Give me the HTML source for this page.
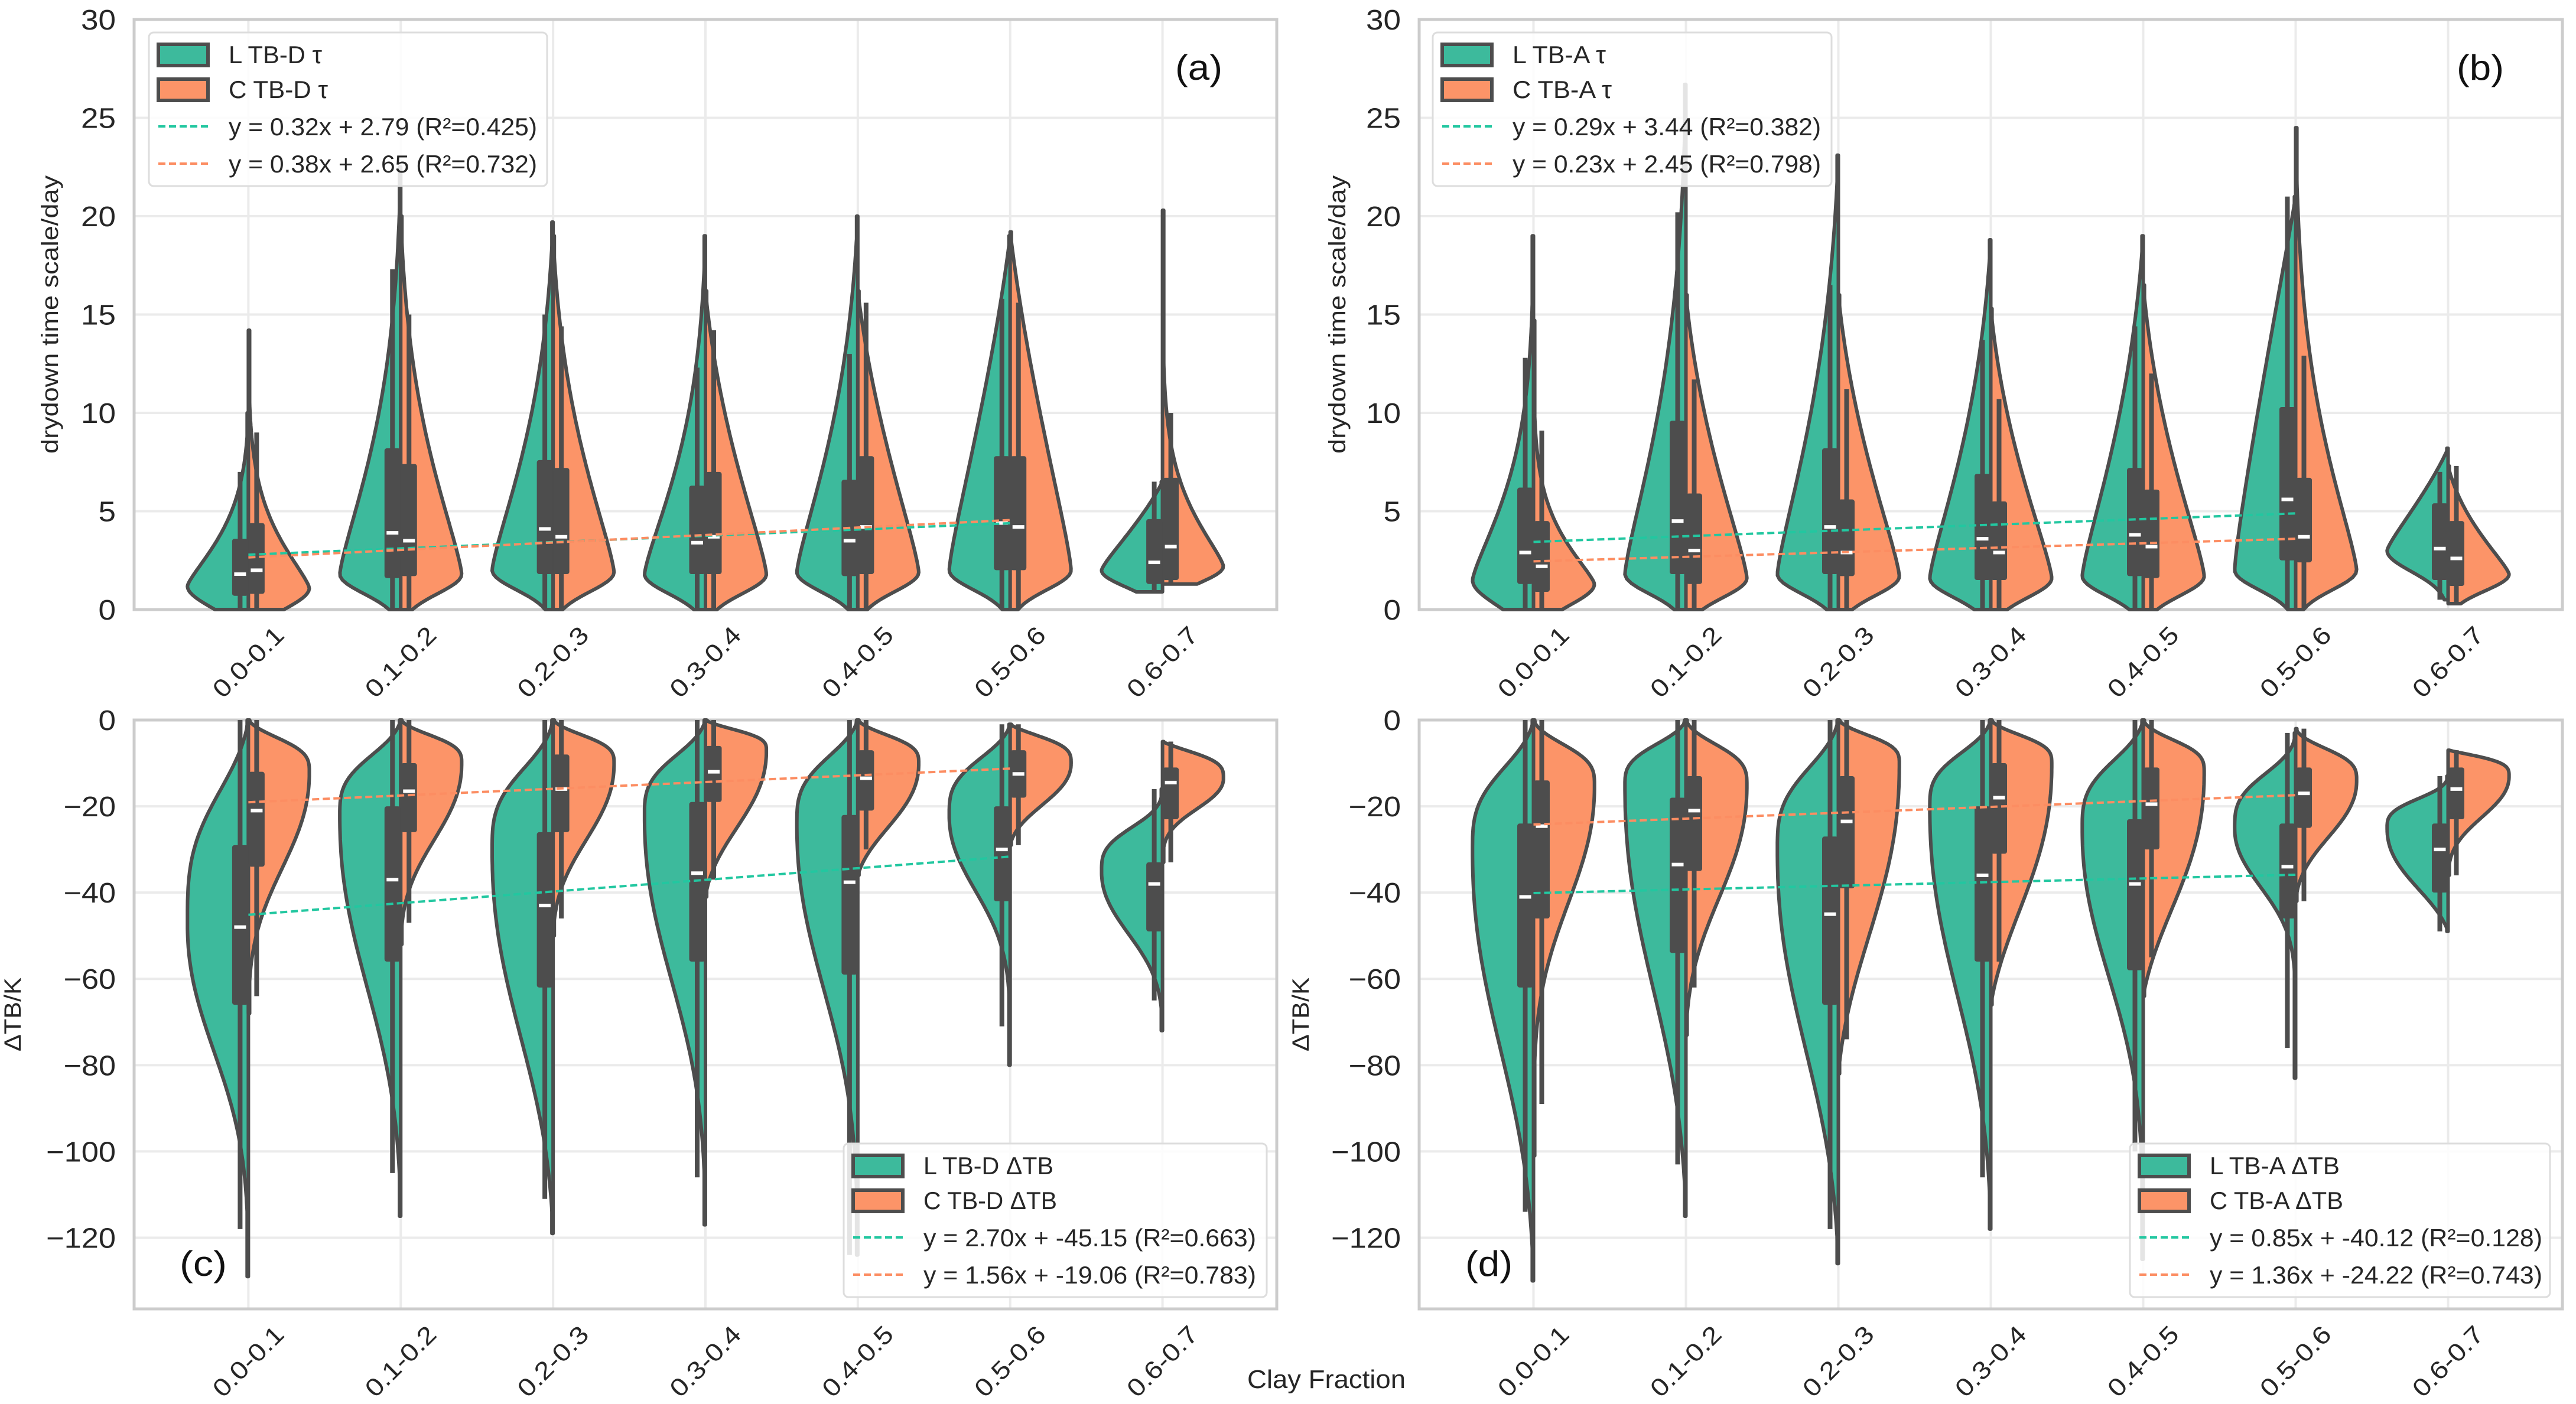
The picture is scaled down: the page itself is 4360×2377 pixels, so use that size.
<!DOCTYPE html>
<html><head><meta charset="utf-8"><style>
html,body{margin:0;padding:0;background:#fff;}
svg{display:block;font-family:"Liberation Sans",sans-serif;}
</style></head><body>
<svg id="fig" width="4360" height="2377" viewBox="0 0 4360 2377" xmlns="http://www.w3.org/2000/svg"></svg>
<script>
// ---------- data ----------
const categories = ["0.0-0.1","0.1-0.2","0.2-0.3","0.3-0.4","0.4-0.5","0.5-0.6","0.6-0.7"];
const yTicksTop = [0,5,10,15,20,25,30];
const yTicksBottom = [0,-20,-40,-60,-80,-100,-120];

// Panel A (TB-D tau)
const A_L_min=[0,0,0,0,0,0,0.9], A_L_max=[10,22.5,19.7,19,20,19,6.5], A_L_peak=[1.2,1.8,2,1.8,1.9,2,2];
const A_L_q1=[0.7,1.6,1.8,1.8,1.7,2,1.3], A_L_med=[1.8,3.9,4.1,3.4,3.5,4.4,2.4], A_L_q3=[3.6,8.2,7.6,6.3,6.6,7.8,4.6];
const A_L_wlo=[0,0,0,0,0,0,0.9], A_L_whi=[7,17.3,15,12.3,13,15.8,6.5];
const A_L_sLo=[1.55,1.4,1.4,1.4,1.4,1.4,1.2], A_L_sHi=[3.2,8.2,8,7,8.5,11,3];
const A_C_min=[0,0,0,0,0,0,1.3], A_C_max=[14.2,20,19,16.2,16.2,19.2,20.3], A_C_peak=[1.1,1.8,1.9,1.8,1.9,2,2.2];
const A_C_q1=[0.8,1.7,1.8,1.8,1.8,2,1.5], A_C_med=[2,3.5,3.7,3.7,4.2,4.2,3.2], A_C_q3=[4.4,7.4,7.2,7,7.8,7.8,6.7];
const A_C_wlo=[0,0,0,0,0,0,1.3], A_C_whi=[9,15,14.4,14.2,15.6,15.6,10];
const A_C_sLo=[1.5,1.4,1.4,1.4,1.4,1.4,1.2], A_C_sHi=[3.5,8,8,8,8.5,11,3.7];
const A_fitL=[0.32,2.79], A_fitC=[0.38,2.65];

// Panel B (TB-A tau)
const B_L_min=[0,0,0,0,0,0,0.5], B_L_max=[19,26.7,23.1,18.8,19,21,8.2], B_L_peak=[1.5,1.8,1.8,1.6,1.7,2,3];
const B_L_q1=[1.3,1.8,1.8,1.5,1.7,2.5,1.5], B_L_med=[2.9,4.5,4.2,3.6,3.8,5.6,3.1], B_L_q3=[6.2,9.6,8.2,6.9,7.2,10.3,5.4];
const B_L_wlo=[0,0,0,0,0,0,0.5], B_L_whi=[12.8,20.2,16.5,13.7,14.4,21,7];
const B_L_sLo=[1.8,1.4,1.4,1.4,1.4,1.4,1.5], B_L_sHi=[5.5,10,10,8.5,9,15,3.5];
const B_C_min=[0,0,0,0,0,0,0.3], B_C_max=[14.7,16,16,15.3,16.5,24.5,7.3], B_C_peak=[1.3,1.6,1.7,1.6,1.7,2,1.8];
const B_C_q1=[0.9,1.3,1.7,1.5,1.6,2.4,1.2], B_C_med=[2.2,3.0,2.9,2.9,3.2,3.7,2.6], B_C_q3=[4.5,5.9,5.6,5.5,6.1,6.7,4.5];
const B_C_wlo=[0,0,0,0,0,0,0.3], B_C_whi=[9.1,11.7,11.2,10.7,12,12.9,7.3];
const B_C_sLo=[1.5,1.4,1.4,1.4,1.4,1.4,1.2], B_C_sHi=[3.1,8,8,7.5,8,8.5,3];
const B_fitL=[0.29,3.44], B_fitC=[0.23,2.45];

// Panel C (TB-D dTB)
const C_L_min=[-129,-115,-119,-117,-124,-80,-72], C_L_max=[0,0,0,0,0,-1,-16], C_L_peak=[-47,-22,-30,-22,-24,-22,-35];
const C_L_q1=[-66,-56,-62,-56,-59,-42,-49], C_L_med=[-48,-37,-43,-35.5,-37.6,-30,-38], C_L_q3=[-29,-20,-26,-19,-22,-20,-33];
const C_L_wlo=[-118,-105,-111,-106,-124,-71,-65], C_L_whi=[0,0,0,0,0,-1,-16];
const C_L_sLo=[39,52,56,50,50,23,19], C_L_sHi=[37,16.7,22.7,16.7,19,16,12];
const C_C_min=[-68,-52,-50,-41,-36,-29,-33], C_C_max=[0,0,0,0,0,-1,-5], C_C_peak=[-12,-10,-10,-7,-10,-10,-13.5];
const C_C_q1=[-34,-26,-26,-19,-21,-18,-23], C_C_med=[-21,-16.5,-16,-12,-13.5,-12.5,-14.5], C_C_q3=[-12,-10,-8,-6,-7,-7,-11];
const C_C_wlo=[-64,-47,-46,-37,-30,-29,-33], C_C_whi=[0,0,0,0,0,-1,-5];
const C_C_sLo=[29,23,23,23,19,12.5,9.3], C_C_sHi=[9.7,8,8,6,8,8,8];
const C_fitL=[2.70,-45.15], C_fitC=[1.56,-19.06];

// Panel D (TB-A dTB)
const D_L_min=[-130,-115,-126,-118,-125,-83,-49], D_L_max=[0,0,0,0,0,-3,-13], D_L_peak=[-30,-15,-30,-20,-25,-25,-25];
const D_L_q1=[-62,-54,-66,-56,-58,-46,-40], D_L_med=[-41,-33.5,-45,-36,-38,-34,-30], D_L_q3=[-24,-18,-27,-20,-23,-24,-24];
const D_L_wlo=[-114,-103,-118,-106,-100,-76,-49], D_L_whi=[0,0,0,0,0,-3,-13];
const D_L_sLo=[60,61,60,57,45,18,18], D_L_sHi=[23,11.4,23,15,19,15,8];
const D_C_min=[-101,-73,-82,-66,-64,-42,-36], D_C_max=[0,0,0,0,0,-2,-7], D_C_peak=[-15,-15,-10,-10,-12,-14,-13];
const D_C_q1=[-46,-35,-39,-31,-30,-25,-23], D_C_med=[-24.6,-21,-23.5,-18,-19.5,-17,-16], D_C_q3=[-14,-13,-13,-10,-11,-11,-11];
const D_C_wlo=[-89,-62,-74,-56,-55,-42,-36], D_C_whi=[0,0,0,0,0,-2,-7];
const D_C_sLo=[36,34,51,43,40,17,12.4], D_C_sHi=[11.4,11.4,8,8,9,9,6.8];
const D_fitL=[0.85,-40.12], D_fitC=[1.36,-24.22];

// ---------- rendering ----------
const NS="http://www.w3.org/2000/svg";
const svg=document.getElementById('fig');
const TEAL="#3dba9c", ORANGE="#fc9468", DARK="#4d4d4d", TEAL_LINE="#22c7a0", ORANGE_LINE="#fc8d62";
function mk(tag,attrs,parent){const e=document.createElementNS(NS,tag);for(const k in attrs)e.setAttribute(k,attrs[k]);(parent||svg).appendChild(e);return e;}
function txt(s,attrs,parent){const e=mk('text',attrs,parent);e.textContent=s;return e;}

const panels=[
 {id:'a',x0:227,x1:2161,y0:33,y1:1032,lo:0,hi:30,ticks:yTicksTop,ylabel:'drydown time scale/day',ylx:98,yllen:471,top:true,
  L:{min:A_L_min,max:A_L_max,peak:A_L_peak,q1:A_L_q1,med:A_L_med,q3:A_L_q3,wlo:A_L_wlo,whi:A_L_whi,sLo:A_L_sLo,sHi:A_L_sHi},
  C:{min:A_C_min,max:A_C_max,peak:A_C_peak,q1:A_C_q1,med:A_C_med,q3:A_C_q3,wlo:A_C_wlo,whi:A_C_whi,sLo:A_C_sLo,sHi:A_C_sHi},
  fitL:A_fitL,fitC:A_fitC,leg:['L TB-D τ','C TB-D τ'],legX:252,legY:55,legW:674,letterX:2029,letterY:135},
 {id:'b',x0:2402,x1:4337,y0:33,y1:1032,lo:0,hi:30,ticks:yTicksTop,ylabel:'drydown time scale/day',ylx:2277,yllen:471,top:true,
  L:{min:B_L_min,max:B_L_max,peak:B_L_peak,q1:B_L_q1,med:B_L_med,q3:B_L_q3,wlo:B_L_wlo,whi:B_L_whi,sLo:B_L_sLo,sHi:B_L_sHi},
  C:{min:B_C_min,max:B_C_max,peak:B_C_peak,q1:B_C_q1,med:B_C_med,q3:B_C_q3,wlo:B_C_wlo,whi:B_C_whi,sLo:B_C_sLo,sHi:B_C_sHi},
  fitL:B_fitL,fitC:B_fitC,leg:['L TB-A τ','C TB-A τ'],legX:2425,legY:55,legW:675,letterX:4198,letterY:135},
 {id:'c',x0:227,x1:2161,y0:1219,y1:2216,lo:-136.5,hi:0,ticks:yTicksBottom,ylabel:'ΔTB/K',ylx:35,yllen:125,top:false,
  L:{min:C_L_min,max:C_L_max,peak:C_L_peak,q1:C_L_q1,med:C_L_med,q3:C_L_q3,wlo:C_L_wlo,whi:C_L_whi,sLo:C_L_sLo,sHi:C_L_sHi},
  C:{min:C_C_min,max:C_C_max,peak:C_C_peak,q1:C_C_q1,med:C_C_med,q3:C_C_q3,wlo:C_C_wlo,whi:C_C_whi,sLo:C_C_sLo,sHi:C_C_sHi},
  fitL:C_fitL,fitC:C_fitC,leg:['L TB-D ΔTB','C TB-D ΔTB'],legX:1428,legY:1936,legW:716,letterX:344,letterY:2160},
 {id:'d',x0:2402,x1:4337,y0:1219,y1:2216,lo:-136.5,hi:0,ticks:yTicksBottom,ylabel:'ΔTB/K',ylx:2215,yllen:125,top:false,
  L:{min:D_L_min,max:D_L_max,peak:D_L_peak,q1:D_L_q1,med:D_L_med,q3:D_L_q3,wlo:D_L_wlo,whi:D_L_whi,sLo:D_L_sLo,sHi:D_L_sHi},
  C:{min:D_C_min,max:D_C_max,peak:D_C_peak,q1:D_C_q1,med:D_C_med,q3:D_C_q3,wlo:D_C_wlo,whi:D_C_whi,sLo:D_C_sLo,sHi:D_C_sHi},
  fitL:D_fitL,fitC:D_fitC,leg:['L TB-A ΔTB','C TB-A ΔTB'],legX:3605,legY:1936,legW:711,letterX:2520,letterY:2160}
];

function fmtFit(f){return f[0].toFixed(2)+'x + '+f[1].toFixed(2);}
const r2={a:['0.425','0.732'],b:['0.382','0.798'],c:['0.663','0.783'],d:['0.128','0.743']};

panels.forEach(p=>{
  const g=mk('g',{});
  
  
  const step=(p.x1-p.x0)/7.5;
  const xs=i=>p.x0+(i+0.75)*step;
  const ys=v=>p.y1-(v-p.lo)/(p.hi-p.lo)*(p.y1-p.y0);
  const halfW=0.4*step;
  p.ticks.forEach(t=>{
    const l=mk('line',{x1:p.x0,x2:p.x1,y1:ys(t),y2:ys(t),stroke:'#ebebeb','stroke-width':4},g);
    
    
    const tl=txt(String(t).replace('-','−'),{x:p.x0-31,y:ys(t)+17,'text-anchor':'end','font-size':48,fill:'#262626',textLength:String(t).length*29.5,lengthAdjust:'spacingAndGlyphs'},g);
    
    
  });
  categories.forEach((c,i)=>{
    const l=mk('line',{x1:xs(i),x2:xs(i),y1:p.y0,y2:p.y1,stroke:'#ebebeb','stroke-width':4},g);
    
    
    const cy=p.y1+89;
    const tl=txt(c,{x:xs(i),y:cy+14,'text-anchor':'middle','font-size':42,fill:'#262626',transform:`rotate(-45 ${xs(i)} ${cy})`,textLength:150,lengthAdjust:'spacingAndGlyphs'},g);
    
    
  });
  const fr=mk('rect',{x:p.x0,y:p.y0,width:p.x1-p.x0,height:p.y1-p.y0,fill:'none',stroke:'#cccccc','stroke-width':5},g);
  
  
  const yl=txt(p.ylabel,{x:p.ylx,y:(p.y0+p.y1)/2,'text-anchor':'middle','font-size':40,fill:'#262626',transform:`rotate(-90 ${p.ylx} ${(p.y0+p.y1)/2})`,textLength:p.yllen,lengthAdjust:'spacingAndGlyphs'},g);
  
  

  const pLo=p.top?2:2.2, pHi=p.top?1.3:3;
  ['L','C'].forEach(side=>{
    const d=p[side]; const sign=side==='L'?-1:1; const fill=side==='L'?TEAL:ORANGE;
    categories.forEach((c,i)=>{
      const cx=xs(i); const pts=[]; const N=120;
      for(let k=0;k<=N;k++){
        const v=d.min[i]+(d.max[i]-d.min[i])*k/N;
        const dv=v-d.peak[i];
        let w;
        if(dv<0){
          w=Math.exp(-Math.pow(-dv/d.sLo[i],pLo));
          if(!p.top){const t=-dv/(d.peak[i]-d.min[i]);w*=(1-Math.pow(t,4));}
        } else {
          w=Math.exp(-Math.pow(dv/d.sHi[i],pHi));
          const t=dv/Math.max(1e-6,d.max[i]-d.peak[i]);w*=(1-Math.pow(t,4));
        }
        w=Math.max(w,0.02);
        pts.push((cx+sign*w*halfW).toFixed(1)+','+ys(v).toFixed(1));
      }
      pts.push(cx+','+ys(d.max[i]).toFixed(1));
      pts.push(cx+','+ys(d.min[i]).toFixed(1));
      const poly=mk('polygon',{points:pts.join(' '),fill:fill,stroke:DARK,'stroke-width':6,'stroke-linejoin':'round'},g);
      
      
    });
  });
  ['L','C'].forEach(side=>{
    const d=p[side]; const off=side==='L'?-14:14;
    categories.forEach((c,i)=>{
      const bx=xs(i)+off;
      const wl=mk('line',{x1:bx,x2:bx,y1:ys(d.wlo[i]),y2:ys(d.whi[i]),stroke:DARK,'stroke-width':8},g);
      
      
      const br=mk('rect',{x:bx-13.5,y:ys(d.q3[i]),width:27,height:ys(d.q1[i])-ys(d.q3[i]),fill:DARK,rx:4},g);
      
      
      const md=mk('rect',{x:bx-10,y:ys(d.med[i])-3,width:20,height:6,fill:'#ffffff'},g);
      
      
    });
  });
  [[p.fitL,TEAL_LINE,'fit-line-L'],[p.fitC,ORANGE_LINE,'fit-line-C']].forEach(([f,col,nm])=>{
    const l=mk('line',{x1:xs(0),y1:ys(f[1]),x2:xs(5),y2:ys(f[0]*5+f[1]),stroke:col,'stroke-width':4,'stroke-dasharray':'12 6'},g);
    
    
  });
  const lt=txt('('+p.id+')',{x:p.letterX,y:p.letterY,'text-anchor':'middle','font-size':60,fill:'#111',textLength:80,lengthAdjust:'spacingAndGlyphs'},g);
  
  
  const lg=mk('g',{},g);
  
  
  mk('rect',{x:p.legX,y:p.legY,width:p.legW,height:260,rx:8,fill:'#ffffff','fill-opacity':0.85,stroke:'#dddddd','stroke-width':3},lg);
  const rows=[p.legY+37,p.legY+96,p.legY+159,p.legY+222];
  const px=p.legX+16, tx=p.legX+135;
  const dlt=p.top;
  [[TEAL,p.leg[0]],[ORANGE,p.leg[1]]].forEach(([col,lab],k)=>{
    const e=mk('rect',{x:px,y:rows[k]-17,width:84,height:36,fill:col,stroke:DARK,'stroke-width':6},lg);
    
    
    const t=txt(lab,{x:tx,y:rows[k]+15,'font-size':42,fill:'#262626',textLength:dlt?(k?168:158):(k?226:220),lengthAdjust:'spacingAndGlyphs'},lg);
    
    
  });
  [[p.fitL,TEAL_LINE,r2[p.id][0]],[p.fitC,ORANGE_LINE,r2[p.id][1]]].forEach(([f,col,r],k)=>{
    const l=mk('line',{x1:px,x2:px+84,y1:rows[k+2],y2:rows[k+2],stroke:col,'stroke-width':4,'stroke-dasharray':'12 6'},lg);
    
    
    const t=mk('text',{x:tx,y:rows[k+2]+15,'font-size':42,fill:'#262626',textLength:dlt?522:563,lengthAdjust:'spacingAndGlyphs'},lg);
    t.textContent='y = '+fmtFit(f)+' (R²='+r+')';
    
    
  });
  svg.appendChild(g);
});
const xt=txt('Clay Fraction',{x:2245,y:2350,'text-anchor':'middle','font-size':44,fill:'#262626',textLength:268,lengthAdjust:'spacingAndGlyphs'});


</script>
</body></html>
